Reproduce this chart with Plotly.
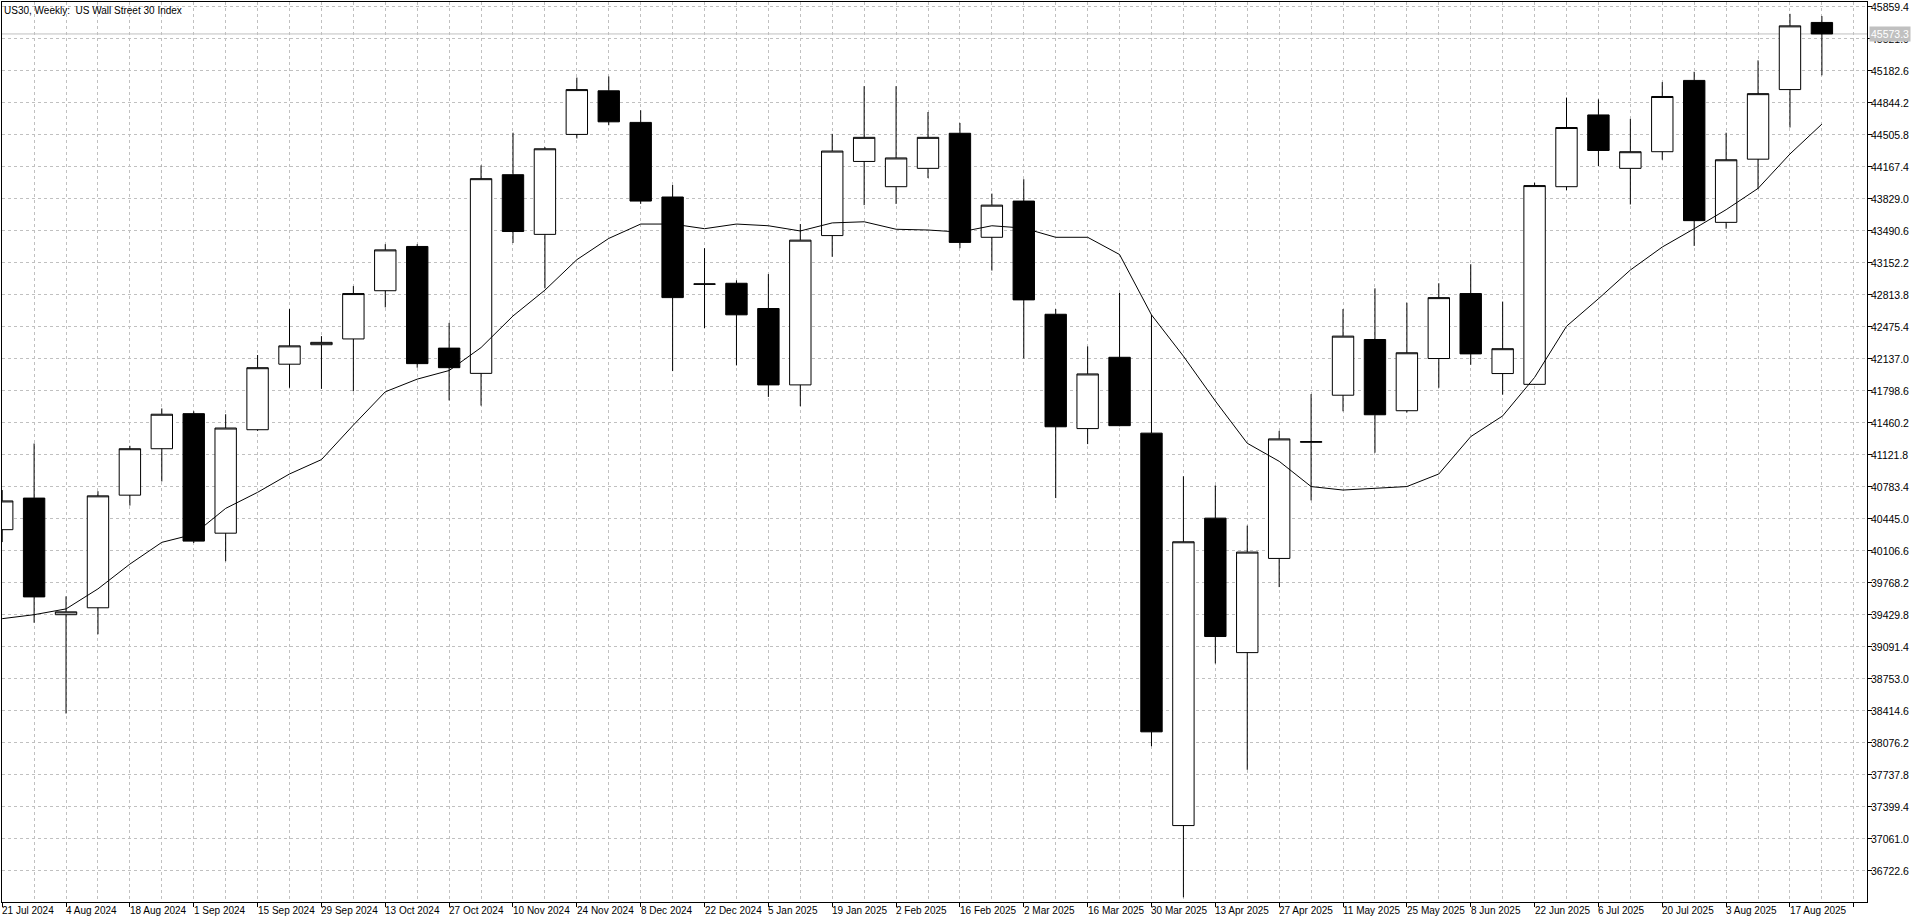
import pandas as pd
import plotly.graph_objects as go

# ---------------- data ----------------
title_text = "US30, Weekly:\u00a0 US Wall Street 30 Index"

dates = pd.date_range("2024-07-21", periods=58, freq="7D")

opens = [40331, 40665, 39432, 39505, 40696, 41187, 41558, 40294, 41388, 42081,
         42287, 42348, 42858, 43326, 42251, 41984, 44085, 43454, 44511, 44972,
         44638, 43849, 42925, 42937, 42670, 41862, 43441, 44225, 43958, 44152,
         44523, 43423, 43806, 42609, 41400, 42154, 41352, 37202, 40453, 39031,
         40027, 41255, 41753, 42342, 41589, 42141, 42828, 41982, 41868, 43958,
         44717, 44152, 44328, 45082, 43581, 44249, 44985, 45695]
highs = [40750, 41242, 39626, 40738, 41218, 41613, 41583, 41552, 42178, 42664,
         42378, 42907, 43350, 43350, 42518, 44183, 44529, 44377, 45112, 45124,
         44766, 43976, 43308, 42968, 43034, 43563, 44517, 45021, 45021, 44748,
         44632, 43885, 44037, 42664, 42269, 42834, 42603, 40896, 40799, 40374,
         41376, 41765, 42664, 42883, 42731, 42937, 43138, 42743, 44000, 44900,
         44881, 44675, 45064, 45173, 44529, 45294, 45786, 45762]
lows = [40200, 39347, 38387, 39225, 40586, 40841, 40190, 39997, 41376, 41832,
        41820, 41795, 42682, 42044, 41698, 41643, 43363, 42883, 44468, 44608,
        43776, 42008, 42463, 42068, 41735, 41637, 43217, 43763, 43776, 44049,
        43308, 43071, 42141, 40665, 41236, 41425, 38041, 36443, 38916, 37792,
        39724, 40641, 41583, 41145, 41570, 41832, 42075, 41759, 41862, 43921,
        44177, 43770, 44243, 43332, 43514, 43934, 44584, 45136]
closes = [40635, 39620, 39462, 40689, 41187, 41552, 40210, 41406, 42044, 42275,
          42312, 42828, 43290, 42087, 42044, 44043, 43484, 44359, 44985, 44644,
          43806, 42785, 42930, 42603, 41862, 43393, 44335, 44480, 44262, 44480,
          43369, 43763, 42761, 41419, 41978, 41431, 38193, 40203, 39201, 40094,
          41291, 41262, 42378, 41546, 42202, 42785, 42190, 42245, 43970, 44584,
          44341, 44328, 44912, 43599, 44243, 44942, 45659, 45573.3]
ma_values = [39390, 39432, 39493, 39705, 39967, 40197, 40282, 40556, 40726, 40920,
             41072, 41437, 41789, 41923, 42014, 42257, 42591, 42864, 43186, 43411,
             43563, 43563, 43514, 43563, 43545, 43490, 43575, 43587, 43508, 43500,
             43478, 43545, 43520, 43423, 43423, 43241, 42603, 42166, 41692, 41245,
             41054, 40787, 40750, 40768, 40787, 40920, 41315, 41534, 41941, 42482,
             42773, 43077, 43320, 43514, 43715, 43940, 44304, 44620]

y_tick_values = [45859.4, 45521.0, 45182.6, 44844.2, 44505.8, 44167.4, 43829.0,
                 43490.6, 43152.2, 42813.8, 42475.4, 42137.0, 41798.6, 41460.2,
                 41121.8, 40783.4, 40445.0, 40106.6, 39768.2, 39429.8, 39091.4,
                 38753.0, 38414.6, 38076.2, 37737.8, 37399.4, 37061.0, 36722.6]

x_label_dates = ["2024-07-21", "2024-08-04", "2024-08-18", "2024-09-01", "2024-09-15",
                 "2024-09-29", "2024-10-13", "2024-10-27", "2024-11-10", "2024-11-24",
                 "2024-12-08", "2024-12-22", "2025-01-05", "2025-01-19", "2025-02-02",
                 "2025-02-16", "2025-03-02", "2025-03-16", "2025-03-30", "2025-04-13",
                 "2025-04-27", "2025-05-11", "2025-05-25", "2025-06-08", "2025-06-22",
                 "2025-07-06", "2025-07-20", "2025-08-03", "2025-08-17"]
x_label_texts = ["21 Jul 2024", "4 Aug 2024", "18 Aug 2024", "1 Sep 2024", "15 Sep 2024",
                 "29 Sep 2024", "13 Oct 2024", "27 Oct 2024", "10 Nov 2024", "24 Nov 2024",
                 "8 Dec 2024", "22 Dec 2024", "5 Jan 2025", "19 Jan 2025", "2 Feb 2025",
                 "16 Feb 2025", "2 Mar 2025", "16 Mar 2025", "30 Mar 2025", "13 Apr 2025",
                 "27 Apr 2025", "11 May 2025", "25 May 2025", "8 Jun 2025", "22 Jun 2025",
                 "6 Jul 2025", "20 Jul 2025", "3 Aug 2025", "17 Aug 2025"]

current_price = closes[-1]

# ---------------- style ----------------
FONT = "Liberation Sans"
GRID = "#c0c0c0"

fig = go.Figure()

fig.add_trace(go.Candlestick(
    x=dates, open=opens, high=highs, low=lows, close=closes,
    increasing=dict(line=dict(color="black", width=1), fillcolor="white"),
    decreasing=dict(line=dict(color="black", width=1), fillcolor="black"),
    whiskerwidth=0, showlegend=False, hoverinfo="skip",
))

fig.add_trace(go.Scatter(
    x=dates, y=ma_values, mode="lines",
    line=dict(color="black", width=1), showlegend=False, hoverinfo="skip",
))

# current price line
fig.add_hline(y=current_price, line=dict(color="#c0c0c0", width=1), layer="below")

fig.update_layout(
    template="none",
    width=1920, height=923,
    margin=dict(l=2, r=53, t=2, b=21, autoexpand=False),
    paper_bgcolor="white", plot_bgcolor="white",
    font=dict(family=FONT, size=10, color="black"),
    hovermode=False,
    showlegend=False,
    boxgap=0.33, boxgroupgap=0,
)

fig.update_xaxes(
    type="date", automargin=False,
    range=["2024-07-20 23:00", "2025-09-02 21:20"],
    rangeslider=dict(visible=False),
    tick0="2024-07-21", dtick=14 * 86400000,
    ticks="outside", ticklen=4, tickcolor="black", tickwidth=1,
    showticklabels=False,
    showgrid=True, gridcolor=GRID, griddash="3px,3px", gridwidth=1,
    minor=dict(dtick=7 * 86400000, tick0="2024-07-21", showgrid=True,
               gridcolor=GRID, griddash="3px,3px", gridwidth=1, ticks=""),
    showline=True, linecolor="black", linewidth=1, mirror=True,
    zeroline=False, fixedrange=True,
)

fig.update_yaxes(
    side="right", automargin=False,
    range=[36393.7, 45911.2],
    tickmode="array", tickvals=y_tick_values,
    ticks="outside", ticklen=4, tickcolor="black", tickwidth=1,
    showticklabels=False,
    showgrid=True, gridcolor=GRID, griddash="3px,3px", gridwidth=1,
    showline=True, linecolor="black", linewidth=1, mirror=True,
    zeroline=False, fixedrange=True,
)

# y labels (left aligned right of the axis, like the terminal)
for v in y_tick_values:
    fig.add_annotation(x=1, xref="paper", y=v, yref="y", text=f"{v:.1f}",
                       showarrow=False, xanchor="left", yanchor="middle",
                       xshift=3, borderpad=0,
                       font=dict(family=FONT, size=10.5, color="black"))

# x labels (left aligned at the tick, like the terminal)
for d, t in zip(x_label_dates, x_label_texts):
    fig.add_annotation(x=d, xref="x", y=0, yref="paper", text=t, showarrow=False,
                       xanchor="left", yanchor="top", yshift=-2, xshift=-1,
                       borderpad=0,
                       font=dict(family=FONT, size=10, color="black"))

# title
fig.add_annotation(x=0, xref="paper", y=1, yref="paper", text=title_text,
                   showarrow=False, xanchor="left", yanchor="top", xshift=1, yshift=-2,
                   borderpad=0,
                   font=dict(family=FONT, size=10, color="black"))

# current price label
fig.add_annotation(x=1, xref="paper", y=current_price, yref="y", text=f"{current_price:.1f}",
                   showarrow=False, xanchor="left", yanchor="middle", xshift=2,
                   bgcolor="#c0c0c0", borderpad=1,
                   font=dict(family=FONT, size=10.5, color="white"))

fig.write_html("out.html", config={"displayModeBar": False},
               post_script="document.body.style.margin='0';document.body.style.overflow='hidden';")
